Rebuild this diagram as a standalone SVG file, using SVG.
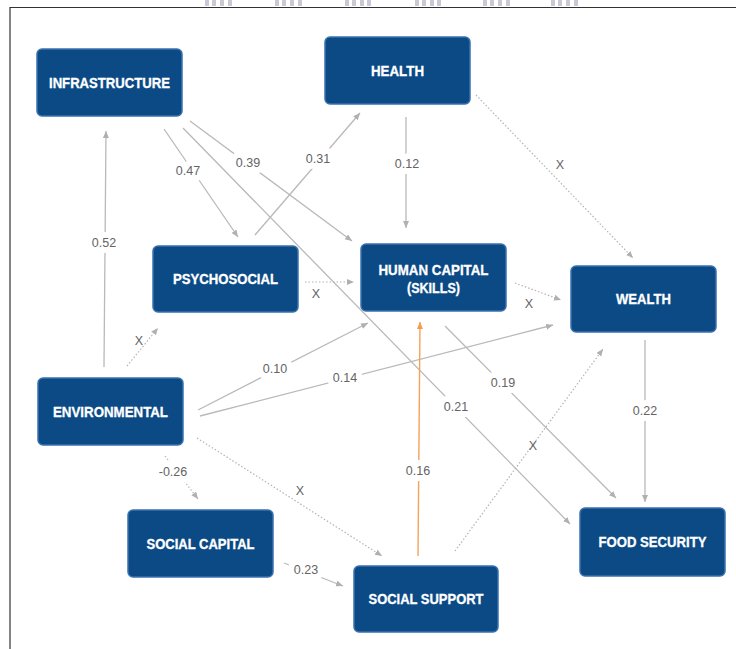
<svg xmlns="http://www.w3.org/2000/svg" width="736" height="649" viewBox="0 0 736 649">
<defs>
<style>
.node rect{fill:#0c4a86;stroke:#3a72ad;stroke-width:1.5}
.node text{fill:#fff;font-family:"Liberation Sans",Arial,sans-serif;font-weight:bold;font-size:14px;text-anchor:middle;stroke:#fff;stroke-width:0.3}
.ln{fill:none;stroke:#b9b9b9;stroke-width:1.3}
.dot{fill:none;stroke:#b3b3b3;stroke-width:1.2;stroke-dasharray:1.5 2}
.or{fill:none;stroke:#f5a25a;stroke-width:1.4}
.lbl{fill:#646464;font-family:"Liberation Sans",Arial,sans-serif;font-size:12.5px;text-anchor:middle;stroke:#fff;stroke-width:12;stroke-linejoin:round;paint-order:stroke}
.lblx{fill:#646464;font-family:"Liberation Sans",Arial,sans-serif;font-size:12.5px;text-anchor:middle}
.strip{fill:#c9c9d6}
</style>
<marker id="ag" markerUnits="userSpaceOnUse" markerWidth="8" markerHeight="7" refX="7" refY="3" orient="auto"><path d="M0,0 L7,3 L0,6 z" fill="#b0b0b0"/></marker>
<marker id="ao" markerUnits="userSpaceOnUse" markerWidth="8" markerHeight="7" refX="7" refY="3" orient="auto"><path d="M0,0 L7,3 L0,6 z" fill="#f39c4f"/></marker>
</defs>
<rect width="736" height="649" fill="#fff"/>
<g id="header-strips">
<rect class="strip" x="205" y="0" width="4" height="6"/><rect class="strip" x="212" y="0" width="4" height="6"/><rect class="strip" x="220" y="0" width="4" height="6"/><rect class="strip" x="228" y="0" width="4" height="6"/>
<rect class="strip" x="275" y="0" width="4" height="6"/><rect class="strip" x="282" y="0" width="4" height="6"/><rect class="strip" x="290" y="0" width="4" height="6"/><rect class="strip" x="298" y="0" width="4" height="6"/>
<rect class="strip" x="345" y="0" width="4" height="6"/><rect class="strip" x="352" y="0" width="4" height="6"/><rect class="strip" x="360" y="0" width="4" height="6"/><rect class="strip" x="367" y="0" width="4" height="6"/>
<rect class="strip" x="415" y="0" width="4" height="6"/><rect class="strip" x="422" y="0" width="4" height="6"/><rect class="strip" x="430" y="0" width="4" height="6"/><rect class="strip" x="437" y="0" width="4" height="6"/>
<rect class="strip" x="483" y="0" width="4" height="6"/><rect class="strip" x="490" y="0" width="4" height="6"/><rect class="strip" x="498" y="0" width="4" height="6"/><rect class="strip" x="506" y="0" width="4" height="6"/>
<rect class="strip" x="551" y="0" width="4" height="6"/><rect class="strip" x="558" y="0" width="4" height="6"/><rect class="strip" x="566" y="0" width="4" height="6"/><rect class="strip" x="574" y="0" width="4" height="6"/>
</g>
<g id="frame" fill="none" stroke="#333" stroke-width="1.2">
<path d="M10,649 L10,7.5 L736,7.5"/>
</g>
<g id="connectors">
<path class="ln" d="M104,367 L106,131" marker-end="url(#ag)"/>
<path class="ln" d="M164,129 L238,237" marker-end="url(#ag)"/>
<path class="ln" d="M190,121 L352,241" marker-end="url(#ag)"/>
<path class="ln" d="M183,128 L570,524" marker-end="url(#ag)"/>
<path class="ln" d="M255,235 L360,113" marker-end="url(#ag)"/>
<path class="ln" d="M406,117 L406,228" marker-end="url(#ag)"/>
<path class="dot" d="M476,95 L633,258" marker-end="url(#ag)"/>
<path class="dot" d="M305,282 L354,282" marker-end="url(#ag)"/>
<path class="dot" d="M515,283 L561,300" marker-end="url(#ag)"/>
<path class="dot" d="M127,366 L158,328" marker-end="url(#ag)"/>
<path class="ln" d="M198,410 L368,323" marker-end="url(#ag)"/>
<path class="ln" d="M200,416 L553,325" marker-end="url(#ag)"/>
<path class="dot" d="M165,456 L198,499" marker-end="url(#ag)"/>
<path class="dot" d="M197,438 L382,556" marker-end="url(#ag)"/>
<path class="ln" d="M284,563 L343,586" marker-end="url(#ag)"/>
<path class="or" d="M418,556 L420,322" marker-end="url(#ao)"/>
<path class="dot" d="M455,551 L603,349" marker-end="url(#ag)"/>
<path class="ln" d="M445,326 L616,498" marker-end="url(#ag)"/>
<path class="ln" d="M645,340 L645,502" marker-end="url(#ag)"/>
</g>
<g id="labels">
<text class="lbl" x="104" y="247">0.52</text>
<text class="lbl" x="188" y="175">0.47</text>
<text class="lbl" x="248" y="167">0.39</text>
<text class="lbl" x="318" y="163">0.31</text>
<text class="lbl" x="407" y="168">0.12</text>
<text class="lblx" x="560" y="169">X</text>
<text class="lblx" x="316" y="298">X</text>
<text class="lblx" x="529" y="308">X</text>
<text class="lblx" x="139" y="345">X</text>
<text class="lbl" x="275" y="373">0.10</text>
<text class="lbl" x="345" y="382">0.14</text>
<text class="lbl" x="456" y="411">0.21</text>
<text class="lbl" x="503" y="387">0.19</text>
<text class="lbl" x="645" y="415">0.22</text>
<text class="lbl" x="173" y="476">-0.26</text>
<text class="lblx" x="300" y="495">X</text>
<text class="lbl" x="418" y="475">0.16</text>
<text class="lblx" x="533" y="450">X</text>
<text class="lbl" x="306" y="574">0.23</text>
</g>
<g id="infrastructure" class="node"><rect x="37" y="49" width="145" height="67" rx="5"/><text x="109.5" y="88" textLength="121" lengthAdjust="spacingAndGlyphs">INFRASTRUCTURE</text></g>
<g id="health" class="node"><rect x="325" y="37" width="145" height="67" rx="5"/><text x="397.5" y="76" textLength="53" lengthAdjust="spacingAndGlyphs">HEALTH</text></g>
<g id="psychosocial" class="node"><rect x="153" y="246" width="145" height="66" rx="5"/><text x="225.5" y="284" textLength="105" lengthAdjust="spacingAndGlyphs">PSYCHOSOCIAL</text></g>
<g id="human-capital" class="node"><rect x="361" y="244" width="145" height="67" rx="5"/><text x="433.5" y="275" textLength="110" lengthAdjust="spacingAndGlyphs">HUMAN CAPITAL</text><text x="433.5" y="293" textLength="53" lengthAdjust="spacingAndGlyphs">(SKILLS)</text></g>
<g id="wealth" class="node"><rect x="571" y="266" width="145" height="66" rx="5"/><text x="643.5" y="304" textLength="55" lengthAdjust="spacingAndGlyphs">WEALTH</text></g>
<g id="environmental" class="node"><rect x="38" y="378" width="145" height="67" rx="5"/><text x="110.5" y="417" textLength="115" lengthAdjust="spacingAndGlyphs">ENVIRONMENTAL</text></g>
<g id="social-capital" class="node"><rect x="128" y="510" width="145" height="67" rx="5"/><text x="200.5" y="549" textLength="108" lengthAdjust="spacingAndGlyphs">SOCIAL CAPITAL</text></g>
<g id="social-support" class="node"><rect x="354" y="566" width="144" height="66" rx="5"/><text x="426" y="604" textLength="115" lengthAdjust="spacingAndGlyphs">SOCIAL SUPPORT</text></g>
<g id="food-security" class="node"><rect x="580" y="508" width="145" height="68" rx="5"/><text x="652.5" y="547" textLength="108" lengthAdjust="spacingAndGlyphs">FOOD SECURITY</text></g>
</svg>
